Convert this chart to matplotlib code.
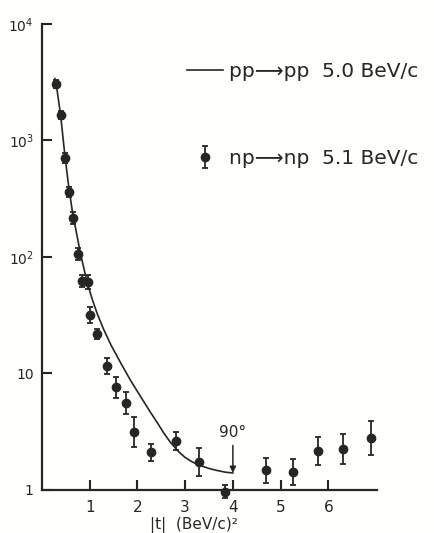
import numpy as np
import matplotlib.pyplot as plt
from matplotlib.ticker import NullLocator
from matplotlib.legend_handler import HandlerErrorbar

# np -> np 5.1 BeV/c data points (|t|, dsigma/dt) with error bar ends
np_t = [0.30, 0.39, 0.48, 0.56, 0.64, 0.75, 0.83, 0.96, 1.01, 1.16, 1.36, 1.56,
        1.75, 1.93, 2.28, 2.81, 3.30, 3.83, 4.70, 5.26, 5.78, 6.30, 6.89]
np_val = [3050, 1650, 710, 364, 215, 107, 62, 61, 32, 21.8, 11.6, 7.6,
          5.6, 3.16, 2.1, 2.63, 1.73, 0.97, 1.47, 1.44, 2.17, 2.25, 2.78]
np_hi = [3300, 1785, 785, 400, 242, 120, 70, 70, 37.5, 24, 13.6, 9.3,
         7.0, 4.25, 2.46, 3.14, 2.28, 1.11, 1.9, 1.86, 2.86, 3.03, 3.89]
np_lo = [2820, 1525, 645, 330, 191, 95, 55, 53, 27.3, 19.7, 9.9, 6.2,
         4.5, 2.35, 1.79, 2.2, 1.31, 0.85, 1.14, 1.11, 1.65, 1.67, 1.99]

# pp -> pp 5.0 BeV/c curve
pp_t = [0.27, 0.30, 0.39, 0.48, 0.56, 0.64, 0.71, 0.80, 0.88, 0.95, 1.05, 1.16,
        1.29, 1.45, 1.65, 1.85, 2.07, 2.25, 2.42, 2.55, 2.69, 2.85, 3.0, 3.15,
        3.32, 3.5, 3.67, 3.85, 4.0]
pp_val = [3400, 3000, 1650, 740, 400, 240, 171, 110, 79, 60, 43.6, 32.4,
          24, 17.4, 12.3, 8.8, 6.3, 4.8, 3.76, 3.09, 2.57, 2.16, 1.9, 1.74,
          1.62, 1.53, 1.47, 1.42, 1.40]

ink = '#262626'

fig = plt.figure(figsize=(4.35, 5.33), dpi=100)
fig.patch.set_facecolor('#fffffb')
ax = fig.add_axes([0.0966, 0.0807, 0.77, 0.8743])
ax.set_facecolor('none')
ax.set_yscale('log')
ax.set_xlim(0, 7.02)
ax.set_ylim(1, 1e4)

line, = ax.plot(pp_t, pp_val, color=ink, lw=1.2)

val = np.array(np_val)
yerr = [val - np.array(np_lo), np.array(np_hi) - val]
eb = ax.errorbar(np_t, np_val, yerr=yerr, fmt='o', color=ink, ms=6,
                 capsize=2.5, elinewidth=1.3, capthick=1.3)
eb.lines[0].set_clip_on(False)
for a in list(eb.lines[1]) + list(eb.lines[2]):
    a.set_clip_on(False)

ax.annotate('90°', xy=(4.0, 1.40), xytext=(4.0, 2.69), ha='center', va='bottom',
            fontsize=11, color=ink,
            arrowprops=dict(arrowstyle='-|>', color=ink, lw=1.1, shrinkA=2, shrinkB=0,
                            mutation_scale=9))

for s in ['top', 'right']:
    ax.spines[s].set_visible(False)
for s in ['left', 'bottom']:
    ax.spines[s].set_linewidth(1.6)
    ax.spines[s].set_color(ink)

ax.set_yticks([1, 10, 100, 1000, 10000], labels=['1', '10', '$10^2$', '$10^3$', '$10^4$'])
ax.yaxis.set_minor_locator(NullLocator())
ax.set_xticks([1, 2, 3, 4, 5, 6], labels=['1', '2', '3', '4', '5', '6'])
ax.tick_params(axis='y', direction='in', length=7, width=1.5, pad=6, labelsize=10,
               color=ink, labelcolor=ink)
ax.tick_params(axis='x', direction='in', length=7, width=1.5, pad=7, labelsize=11,
               color=ink, labelcolor=ink)

ax.set_xlabel('|t|  (BeV/c)²', fontsize=11, color=ink)
ax.xaxis.set_label_coords(0.455, -0.058)

ax.legend([line, eb], ['pp⟶pp  5.0 BeV/c', 'np⟶np  5.1 BeV/c'],
          frameon=False, fontsize=14.5, handlelength=1.8, handletextpad=0.3,
          labelspacing=3.35, borderpad=0, borderaxespad=0,
          loc='upper left', bbox_to_anchor=(0.433, 0.918), labelcolor=ink,
          handler_map={type(eb): HandlerErrorbar(yerr_size=0.55)})

fig.savefig('out.png', dpi=100, facecolor=fig.get_facecolor())
